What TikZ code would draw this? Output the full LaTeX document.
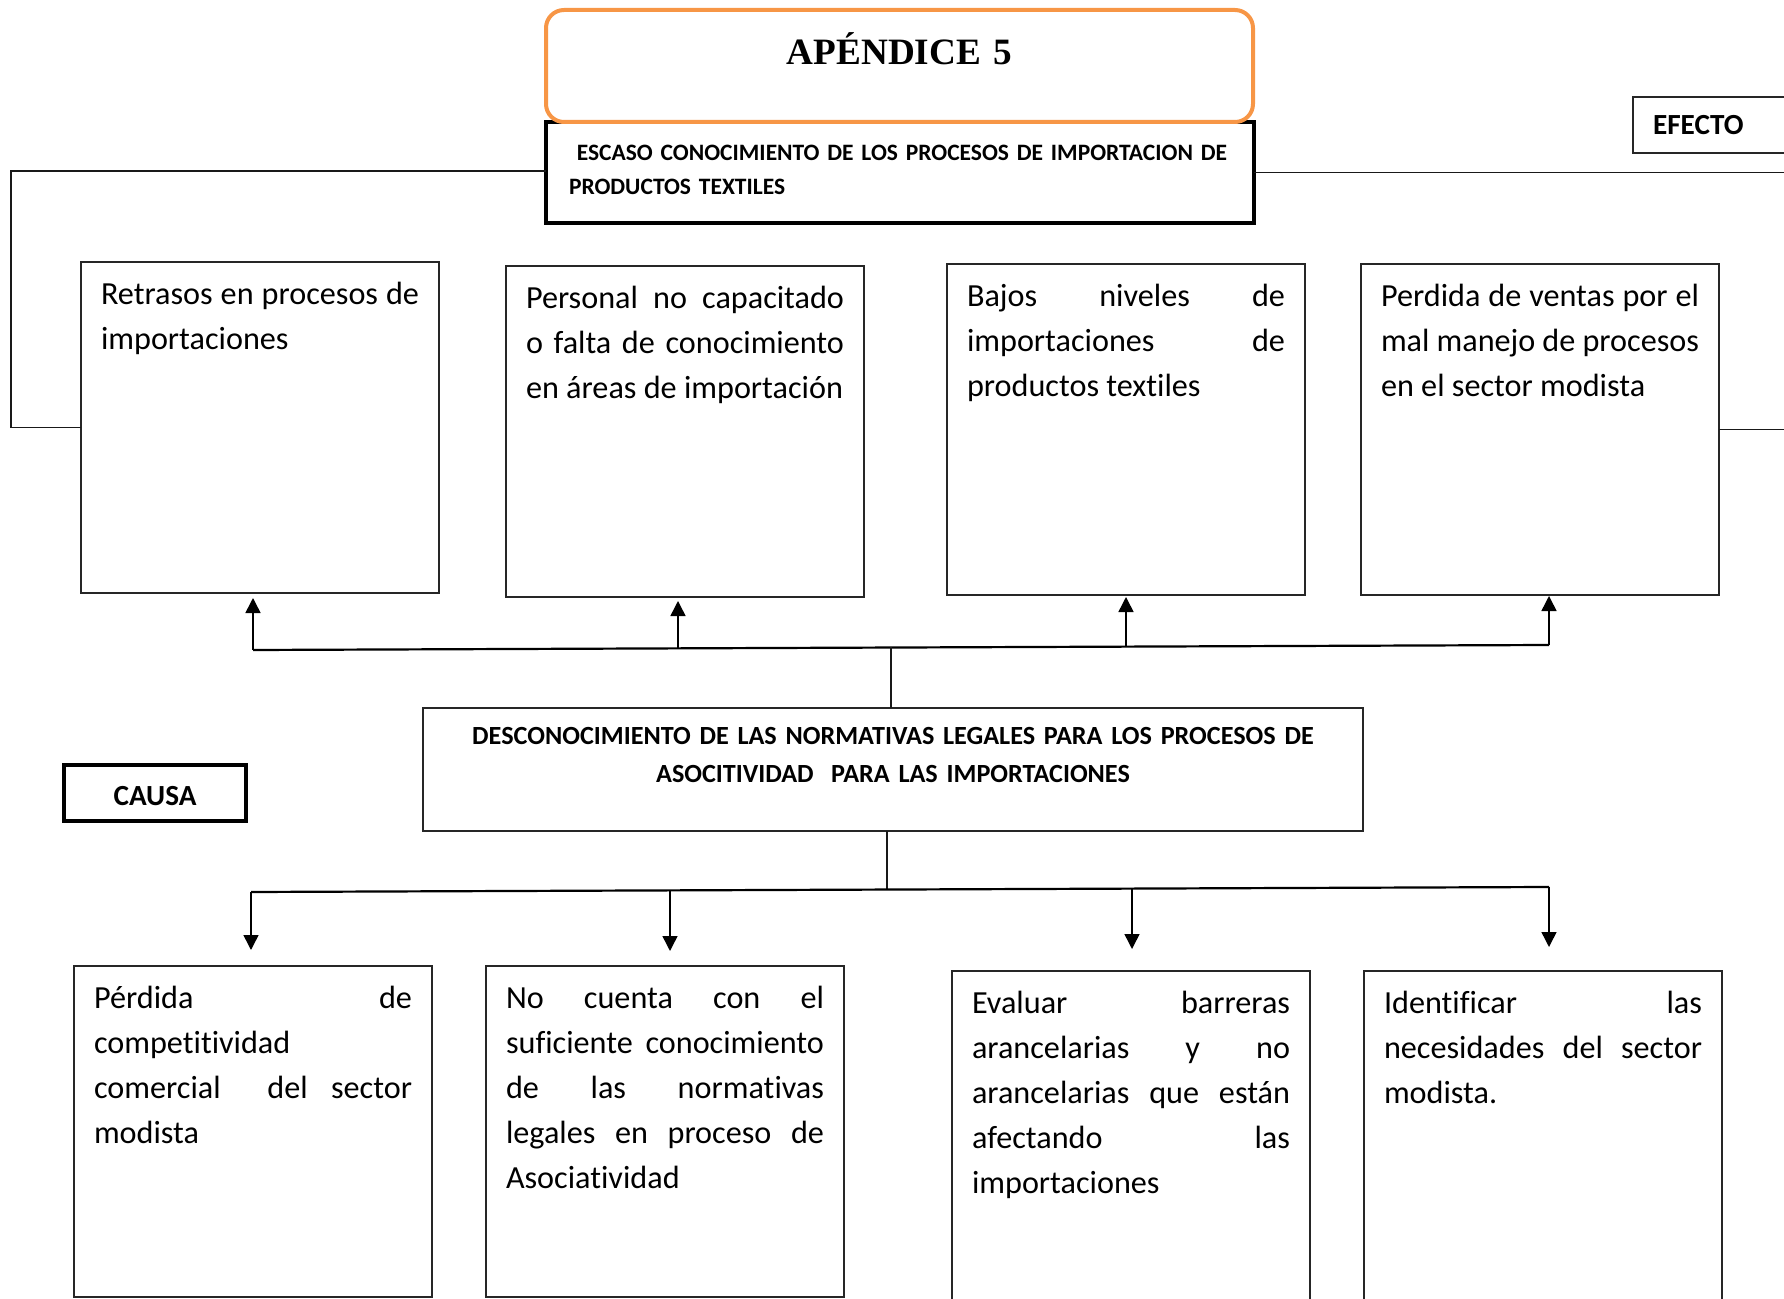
\documentclass[tikz,border=0pt]{standalone}
\usepackage{fontspec}
\setmainfont{Carlito}[Ligatures=NoCommon]
\newfontfamily\titlefont{Liberation Serif}
\usetikzlibrary{arrows.meta,calc}
\definecolor{orng}{HTML}{F79646}
\tolerance=10000
\hbadness=10000
\hfuzz=100pt
\hyphenpenalty=10000
\exhyphenpenalty=10000
\begin{document}
\begin{tikzpicture}[x=0.5pt,y=-0.5pt,
  every node/.style={inner sep=0pt,outer sep=0pt},
  txtbox/.style={draw=black!85,line width=0.7pt,anchor=north west,
    text width=159pt,inner xsep=10pt,inner ysep=0pt,align=justify,
    text height=21.3pt,text depth=144.2pt,
    font=\fontsize{16.1}{22.5}\selectfont},
  conn/.style={line width=0.9pt,draw=black!90},
  bus/.style={line width=1.1pt,draw=black},
  arr/.style={line width=0.75pt,draw=black,-{Triangle[length=7.5pt,width=7.5pt]}},
]
\clip (0,0) rectangle (1784,1299);

% effect header
\node[draw=black,line width=2pt,anchor=north west,text width=331pt,inner xsep=11.5pt,
  inner ysep=0pt,align=left,text height=19.1pt,text depth=31.4pt,
  font=\bfseries\fontsize{11.75}{17}\selectfont] (esc) at (546,122)
  {\makebox[331pt][l]{\ ESCASO CONOCIMIENTO DE LOS PROCESOS DE IMPORTACION DE}\\PRODUCTOS TEXTILES};
\node[draw=orng,fill=white,line width=2pt,rounded corners=9pt,anchor=north west,
  text width=353.5pt,align=center,text height=27.2pt,text depth=28.8pt,
  font=\titlefont\bfseries\fontsize{18.6}{22}\selectfont] (ttl) at (546,10) {APÉNDICE 5};

\node[draw=black!85,line width=0.8pt,anchor=north west,text width=60pt,inner xsep=10pt,
  minimum height=28pt,align=left,font=\bfseries\fontsize{14.6}{17}\selectfont]
  (efecto) at (1633,97) {EFECTO};

% effect boxes
\node[txtbox] (e1) at (81,262) {Retrasos en procesos de\linebreak importaciones};
\node[txtbox] (e2) at (506,266) {Personal no capacitado\linebreak o falta de conocimiento\linebreak en áreas de importación};
\node[txtbox] (e3) at (947,264) {Bajos niveles de\linebreak importaciones de\linebreak productos textiles};
\node[txtbox] (e4) at (1361,264) {Perdida de ventas por el\linebreak mal manejo de procesos\linebreak en el sector modista};

% central problem
\node[draw=black!85,line width=0.8pt,anchor=north west,text width=470pt,align=center,
  text height=18pt,text depth=43.5pt,font=\bfseries\fontsize{13.1}{19}\selectfont]
  (cb) at (423,708)
  {DESCONOCIMIENTO DE LAS NORMATIVAS LEGALES PARA LOS PROCESOS DE\\ASOCITIVIDAD\ \ PARA LAS IMPORTACIONES};

\node[draw=black,line width=2pt,anchor=north west,minimum width=91pt,minimum height=28pt,
  text height=10pt,text depth=0pt,inner ysep=0pt,
  font=\bfseries\fontsize{14.6}{17}\selectfont] (causa) at (64,765) {\raisebox{-1.2pt}{CAUSA}};

% cause boxes
\node[txtbox] (c1) at (74,966) {Pérdida de\linebreak competitividad\linebreak comercial\ \ del sector\linebreak modista};
\node[txtbox] (c2) at (486,966) {No cuenta con el\linebreak suficiente conocimiento\linebreak de las normativas\linebreak legales en proceso de\linebreak Asociatividad};
\node[txtbox] (c3) at (952,971) {Evaluar barreras\linebreak arancelarias y no\linebreak arancelarias que están\linebreak afectando las\linebreak importaciones};
\node[txtbox] (c4) at (1364,971) {Identificar las\linebreak necesidades del sector\linebreak modista.};

% side connectors
\coordinate (L) at (11,300);
\coordinate (R) at (1790,0);
\draw[conn] ($(esc.west)+(0,-1.5)$) -| (L) |- (e1.west);
\draw[conn] (esc.east) -- (esc.east -| R);
\draw[conn] (e4.east) -- (e4.east -| R);

% upper bus
\coordinate (b1) at (253,650);
\coordinate (b2) at (678,648.4);
\coordinate (b3) at (1126,646.6);
\coordinate (b4) at (1549,645);
\coordinate (bm) at (891,647.3);
\draw[bus] (b1) -- (b4);
\draw[conn] (cb.north -| bm) -- (bm);
\draw[arr,shorten >=2.5pt] (b1) -- (b1 |- e1.south);
\draw[arr,shorten >=2pt] (b2) -- (b2 |- e2.south);
\draw[arr,shorten >=1pt] (b3) -- (b3 |- e3.south);
\draw[arr,shorten >=0.5pt] (b4) -- (b4 |- e4.south);

% lower bus
\coordinate (d1) at (251,892);
\coordinate (d2) at (670,890.4);
\coordinate (d3) at (1132,888.6);
\coordinate (d4) at (1549,887);
\coordinate (dm) at (887,889.7);
\coordinate (t1) at (251,950);
\coordinate (t2) at (670,951);
\coordinate (t3) at (1132,949);
\coordinate (t4) at (1549,947);
\draw[conn] (cb.south -| dm) -- (dm);
\draw[bus] (d1) -- (d4);
\draw[arr] (d1) -- (t1);
\draw[arr] (d2) -- (t2);
\draw[arr] (d3) -- (t3);
\draw[arr] (d4) -- (t4);
\end{tikzpicture}
\end{document}
